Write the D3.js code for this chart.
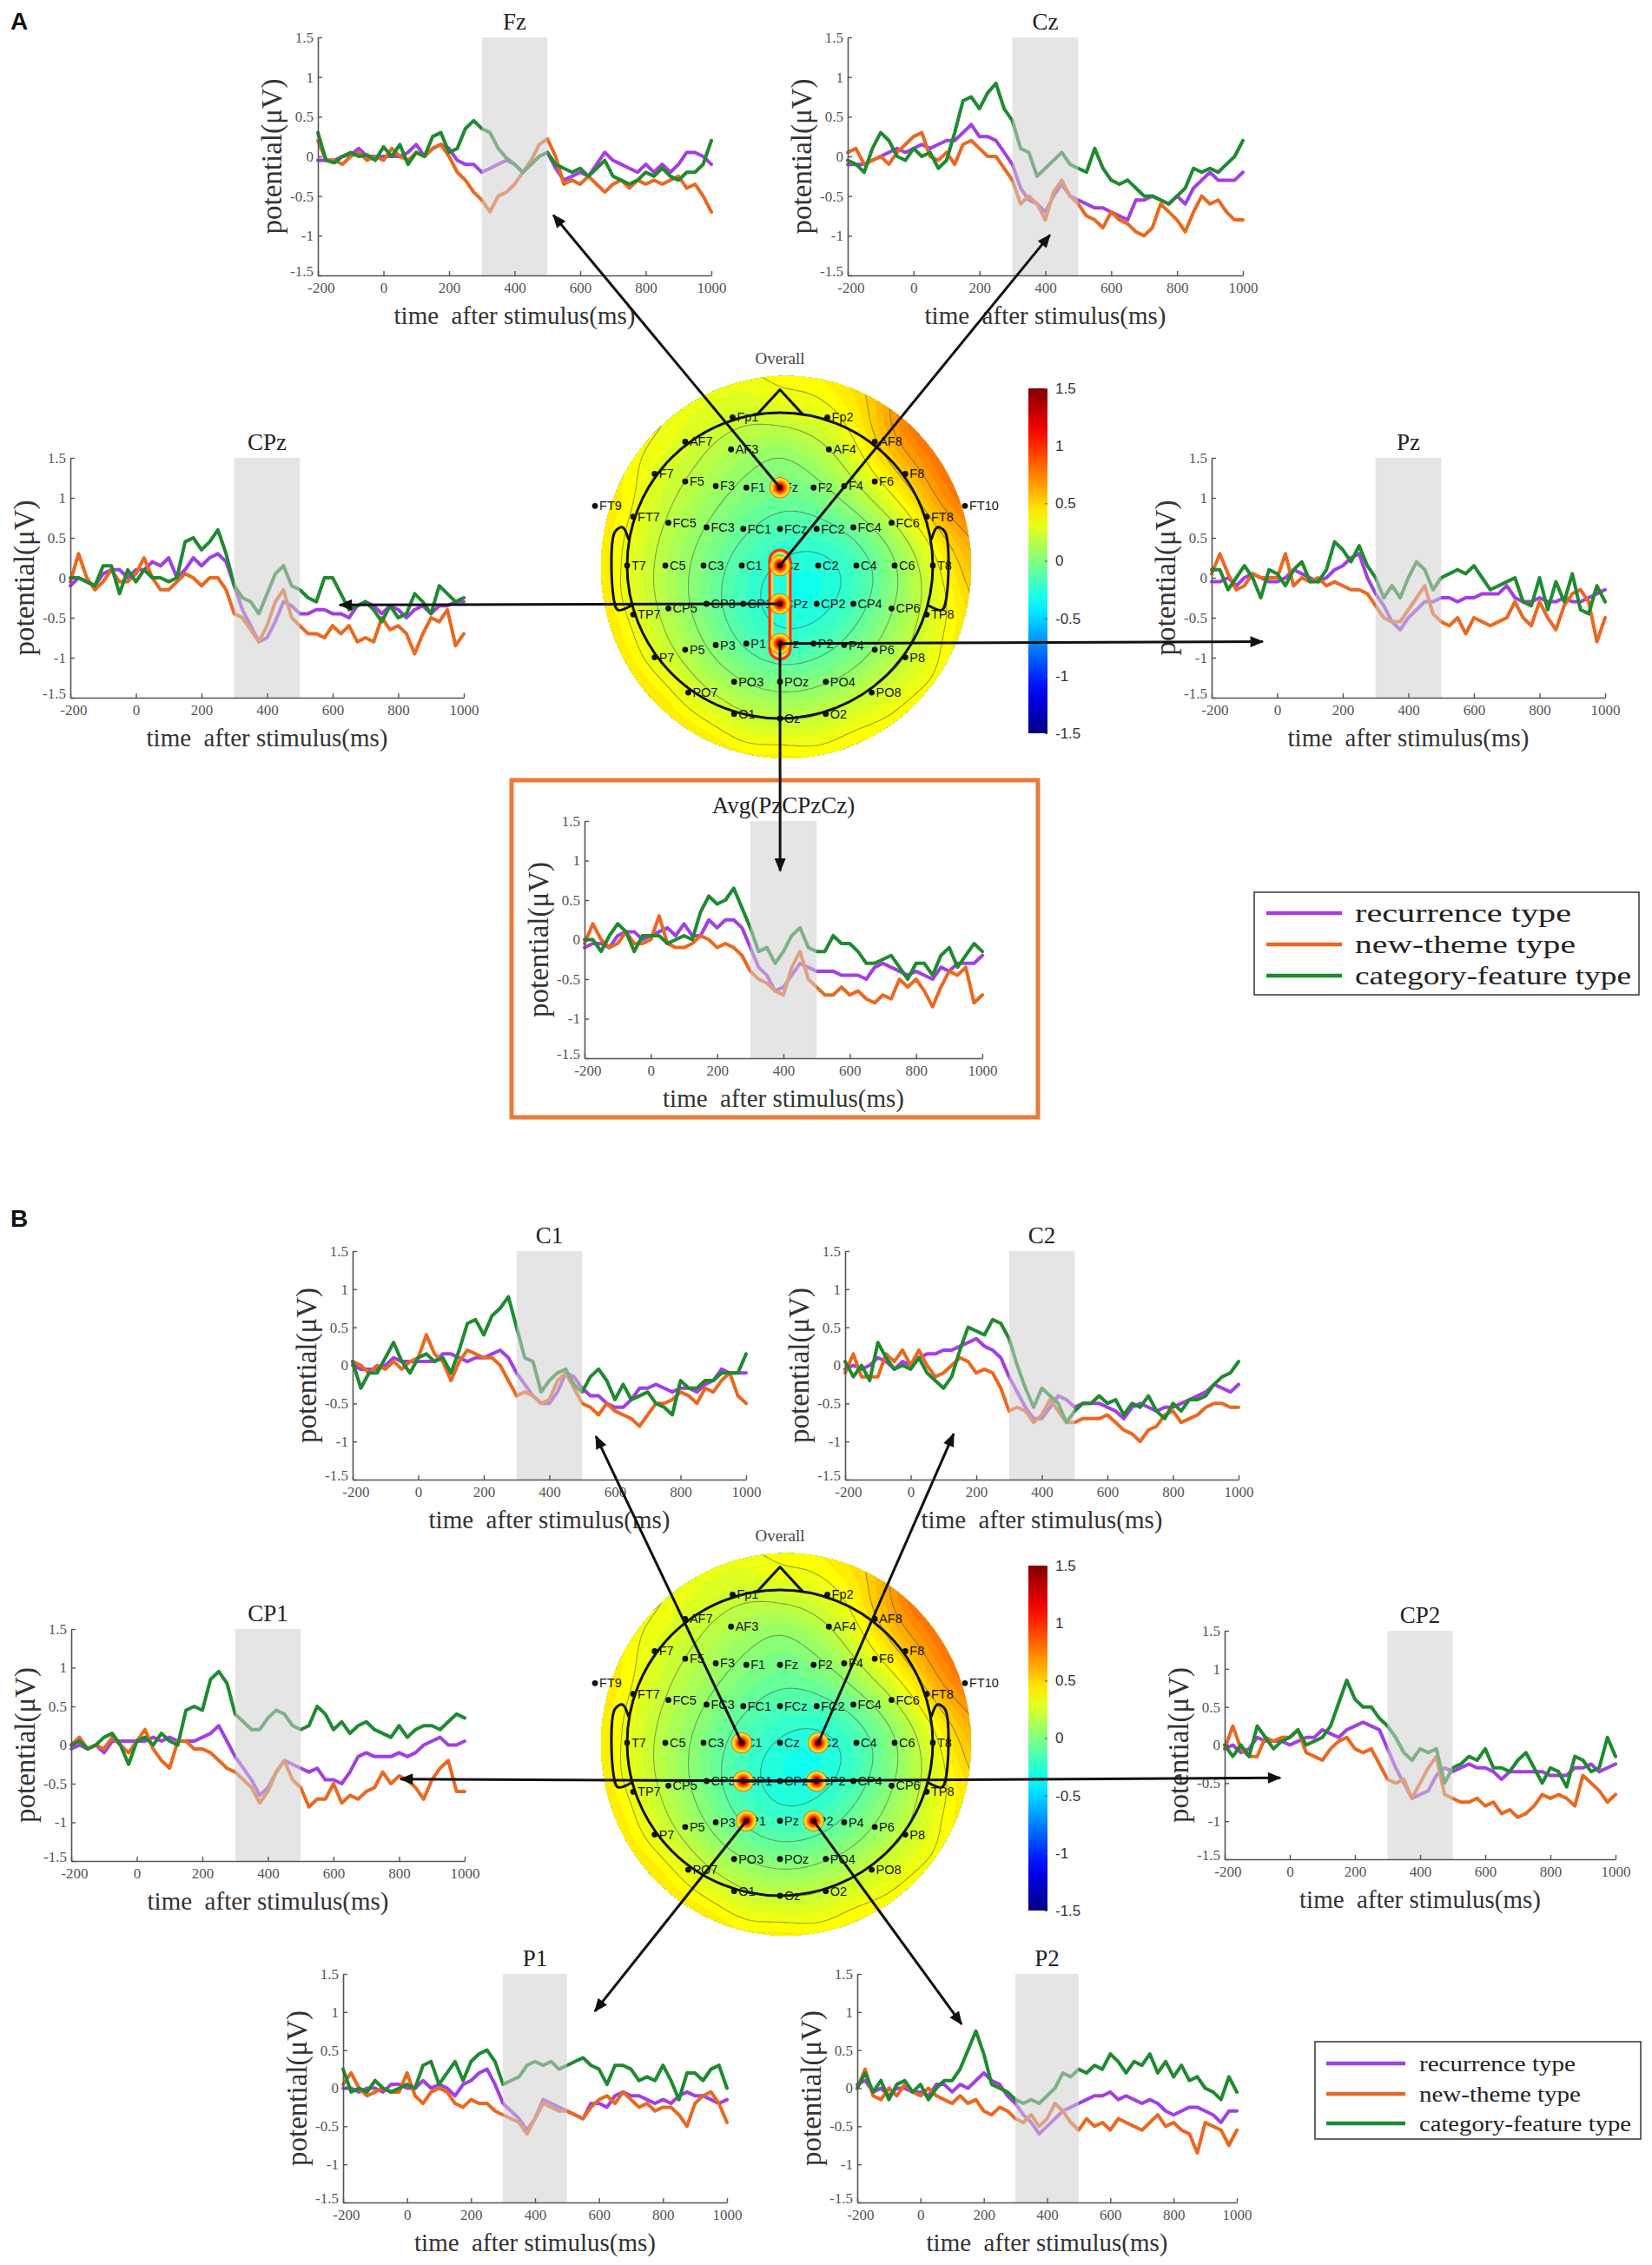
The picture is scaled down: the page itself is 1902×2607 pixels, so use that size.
<!DOCTYPE html>
<html>
<head>
<meta charset="utf-8">
<script src="https://cdn.jsdelivr.net/npm/d3@7"></script>
<style>
html,body{margin:0;padding:0;background:#fff;}
svg text{font-family:"Liberation Serif","Times New Roman",serif;}
</style>
</head>
<body>
<svg id="fig" width="1902" height="2607"></svg>
<script>
'use strict';
// ---------- ERP data: sampled every 25 ms from -200 to 1000 ----------
const timesMs = d3.range(-200, 1001, 25);
const xTicks = [-200, 0, 200, 400, 600, 800, 1000];
const yTicks = [-1.5, -1, -0.5, 0, 0.5, 1, 1.5];
const shadeRange = [300, 500];
const seriesNames = ['recurrence type', 'new-theme type', 'category-feature type'];
const seriesColors = ['#a13fe4', '#ea6820', '#1f8a30'];

const fzRec = [-0.05,-0.05,-0.05,0,0.02,0.1,0,0, 0,0,0,0.05,0.15,0,0.1,0.15, 0.1,-0.05,-0.1,-0.1,-0.2,-0.15,-0.1,-0.05,
  -0.1,-0.2,-0.1,0,0.05,-0.15,-0.3,-0.25, -0.2,-0.25,-0.1,0.05,-0.05,-0.1,-0.15,-0.2, -0.1,-0.2,-0.1,-0.2,-0.1,0.05,0.05,0, -0.1];
const fzNew = [0.2,-0.05,-0.05,-0.1,0,0.05,-0.05,0, -0.05,0.1,0,-0.05,0.05,0,0.1,0.15, 0,-0.2,-0.3,-0.45,-0.55,-0.7,-0.5,-0.45,
  -0.35,-0.2,-0.05,0.15,0.22,0,-0.35,-0.3, -0.35,-0.25,-0.35,-0.45,-0.35,-0.3,-0.4,-0.3, -0.35,-0.3,-0.35,-0.3,-0.25,-0.4,-0.35,-0.5, -0.7];
const fzCat = [0.3,-0.05,-0.08,0,0.05,0,0.02,-0.05, 0.12,0,0.15,-0.1,0.05,0,0.25,0.3, 0.05,0.1,0.35,0.45,0.35,0.3,0.1,-0.02,
  -0.1,-0.2,-0.1,0,0.05,-0.1,-0.15,-0.2, -0.15,-0.25,-0.15,-0.05,-0.25,-0.3,-0.35,-0.3, -0.2,-0.25,-0.15,-0.25,-0.3,-0.2,-0.2,-0.1, 0.2];

const czRec = [-0.1,-0.1,-0.1,-0.05,0,0.05,0.1,0.05, 0.1,0.15,0.1,0.15,0.2,0.2,0.3,0.4, 0.25,0.25,0.2,0.05,-0.1,-0.4,-0.55,-0.6,
  -0.7,-0.5,-0.35,-0.5,-0.55,-0.6,-0.65,-0.65, -0.7,-0.75,-0.8,-0.55,-0.55,-0.5,-0.55,-0.6, -0.5,-0.6,-0.4,-0.3,-0.2,-0.3,-0.3,-0.3, -0.2];
const czNew = [0.05,0.1,-0.1,-0.05,0,-0.1,0.05,0.15, 0.25,0.3,0,-0.05,0.05,-0.1,0.15,0.2, 0.1,0,0,-0.15,-0.3,-0.6,-0.5,-0.6,
  -0.8,-0.45,-0.3,-0.5,-0.6,-0.75,-0.8,-0.9, -0.7,-0.8,-0.85,-0.95,-1,-0.9,-0.6,-0.7, -0.8,-0.95,-0.7,-0.5,-0.6,-0.55,-0.7,-0.8, -0.8];
const czCat = [-0.05,-0.1,-0.2,0.1,0.3,0.2,0,-0.05, 0.1,0,0.05,-0.15,-0.05,0.3,0.7,0.75, 0.6,0.8,0.92,0.6,0.45,0.1,0.05,-0.25,
  -0.15,-0.05,0.05,-0.1,-0.15,-0.2,0.1,-0.15, -0.3,-0.35,-0.3,-0.4,-0.5,-0.5,-0.55,-0.6, -0.5,-0.4,-0.15,-0.2,-0.15,-0.2,-0.1,0, 0.2];

const cpzRec = [-0.1,0,-0.05,-0.1,0.05,0.1,0.1,0, 0.1,0.1,0.2,0.15,0.25,0,0.1,0.25, 0.15,0.25,0.3,0.2,-0.1,-0.4,-0.6,-0.8,
  -0.75,-0.55,-0.3,-0.35,-0.45,-0.45,-0.4,-0.4, -0.45,-0.45,-0.5,-0.35,-0.3,-0.35,-0.45,-0.35, -0.4,-0.5,-0.4,-0.35,-0.45,-0.35,-0.35,-0.3, -0.3];
const cpzNew = [-0.05,0.3,0,-0.15,-0.05,0.1,-0.05,-0.05, 0.05,0.25,0,-0.15,-0.15,-0.05,0.05,0, -0.1,0,0,-0.15,-0.45,-0.5,-0.65,-0.8,
  -0.6,-0.3,-0.15,-0.5,-0.6,-0.7,-0.7,-0.75, -0.6,-0.7,-0.6,-0.8,-0.75,-0.8,-0.5,-0.65, -0.6,-0.7,-0.95,-0.7,-0.5,-0.55,-0.4,-0.85, -0.7];
const cpzCat = [0,0,-0.05,-0.1,0.15,0.15,-0.2,0.1, -0.05,0.1,0,0,-0.05,0,0.45,0.5, 0.35,0.45,0.6,0.3,-0.1,-0.25,-0.3,-0.45,
  -0.2,0.05,0.15,-0.1,-0.15,-0.25,-0.3,0, 0,-0.2,-0.4,-0.35,-0.3,-0.4,-0.55,-0.35, -0.5,-0.45,-0.2,-0.3,-0.45,-0.1,-0.2,-0.3, -0.25];

const pzRec = [-0.05,-0.05,0,-0.1,0,0.05,0,-0.05, -0.05,0,0.1,0.05,0,-0.05,0,0.1, 0.15,0.25,0.3,0,-0.2,-0.35,-0.55,-0.65,
  -0.5,-0.4,-0.3,-0.3,-0.25,-0.25,-0.3,-0.25, -0.25,-0.2,-0.2,-0.2,-0.1,-0.25,-0.3,-0.3, -0.25,-0.3,-0.3,-0.25,-0.3,-0.3,-0.25,-0.2, -0.15];
const pzNew = [0.05,0.3,0.05,-0.15,-0.1,0.05,0,0, 0,0.3,-0.1,0,-0.05,0,-0.1,-0.05, -0.1,-0.15,-0.15,-0.2,-0.35,-0.5,-0.55,-0.55,
  -0.4,-0.25,-0.1,-0.45,-0.55,-0.6,-0.5,-0.7, -0.5,-0.55,-0.6,-0.55,-0.5,-0.3,-0.5,-0.6, -0.3,-0.5,-0.65,-0.35,-0.2,-0.15,-0.3,-0.8, -0.5];
const pzCat = [0.1,0.1,-0.15,0,0.15,0,-0.25,0.1, 0.05,-0.1,0.1,0.2,-0.05,-0.05,0.1,0.45, 0.35,0.2,0.4,0.15,0,-0.25,-0.1,-0.25,
  0,0.2,0.1,-0.15,0,0.05,0.1,0.05, 0.15,0,-0.15,-0.1,-0.05,0,-0.3,-0.35, 0,-0.4,-0.05,-0.3,0.05,-0.4,-0.45,-0.1, -0.3];

const avgRec = [-0.1,-0.05,-0.05,-0.1,0.05,0.1,0.1,0, 0.05,0.1,0.15,0.05,0.2,0.05,0.05,0.25, 0.15,0.25,0.25,0.15,-0.1,-0.35,-0.45,-0.65,
  -0.6,-0.45,-0.3,-0.35,-0.4,-0.4,-0.4,-0.45, -0.45,-0.45,-0.5,-0.35,-0.3,-0.35,-0.4,-0.45, -0.4,-0.45,-0.5,-0.35,-0.4,-0.3,-0.3,-0.3, -0.2];
const avgNew = [-0.05,0.2,0,-0.1,-0.05,0.1,-0.05,-0.05, 0,0.3,-0.05,-0.1,-0.1,-0.05,0.05,0, -0.1,-0.05,-0.1,-0.2,-0.4,-0.5,-0.55,-0.65,
  -0.7,-0.35,-0.15,-0.5,-0.6,-0.7,-0.7,-0.6, -0.7,-0.65,-0.75,-0.8,-0.7,-0.75,-0.5,-0.6, -0.5,-0.65,-0.85,-0.6,-0.4,-0.45,-0.35,-0.8, -0.7];
const avgCat = [0,0,-0.15,0.05,0.2,0.1,-0.15,0.05, 0.05,0.05,-0.05,0,0.05,0,0.35,0.55, 0.45,0.5,0.65,0.4,0.15,-0.15,-0.1,-0.3,
  -0.15,0.05,0.15,-0.1,-0.15,-0.15,0.05,-0.05, -0.05,-0.15,-0.3,-0.3,-0.25,-0.2,-0.35,-0.5, -0.3,-0.3,-0.45,-0.2,-0.1,-0.35,-0.2,-0.05, -0.15];

const c1Rec = [0,-0.05,-0.05,-0.05,0,0.1,0.05,0.05, 0.05,0.05,0.05,0.15,0.15,0.1,0.05,0.1, 0.1,0.15,0.2,0.1,-0.1,-0.25,-0.4,-0.5,
  -0.5,-0.35,-0.1,-0.15,-0.3,-0.4,-0.4,-0.5, -0.55,-0.55,-0.45,-0.3,-0.3,-0.25,-0.3,-0.35, -0.3,-0.3,-0.35,-0.25,-0.2,-0.05,-0.1,-0.1, -0.1];
const c1New = [0.05,0,-0.1,0,-0.05,0.05,-0.05,0.05, 0.1,0.4,0.15,0.05,-0.2,0.05,0.2,0.15, 0.1,0.1,0,-0.2,-0.4,-0.35,-0.4,-0.5,
  -0.45,-0.2,-0.1,-0.3,-0.5,-0.55,-0.65,-0.5, -0.6,-0.65,-0.7,-0.8,-0.65,-0.5,-0.5,-0.45, -0.35,-0.4,-0.5,-0.3,-0.35,-0.2,-0.1,-0.4, -0.5];
const c1Cat = [0.05,-0.3,-0.1,-0.1,0.1,0.3,0.05,-0.1, 0.1,0.15,0.05,0.1,-0.1,0.2,0.55,0.6, 0.4,0.65,0.75,0.9,0.5,0.1,0.05,-0.35,
  -0.2,-0.1,-0.05,-0.25,-0.35,-0.15,-0.05,-0.2, -0.45,-0.25,-0.45,-0.4,-0.35,-0.5,-0.55,-0.65, -0.2,-0.3,-0.3,-0.2,-0.2,-0.1,-0.1,-0.1, 0.15];

const c2Rec = [-0.05,0,-0.05,0,0.1,0.05,-0.05,0.05, 0,0.1,0.15,0.15,0.2,0.2,0.25,0.3, 0.35,0.25,0.2,0.1,-0.15,-0.35,-0.55,-0.7,
  -0.7,-0.55,-0.4,-0.45,-0.55,-0.5,-0.5,-0.5, -0.55,-0.6,-0.7,-0.55,-0.5,-0.55,-0.6,-0.55, -0.55,-0.5,-0.45,-0.4,-0.35,-0.25,-0.3,-0.35, -0.25];
const c2New = [-0.1,0.15,-0.15,-0.15,-0.15,0.15,0.05,0.2, 0,0.2,0,-0.15,-0.1,0,0.1,0.05, -0.1,-0.05,-0.1,-0.3,-0.6,-0.55,-0.6,-0.75,
  -0.65,-0.45,-0.6,-0.75,-0.75,-0.7,-0.7,-0.7, -0.65,-0.75,-0.85,-0.9,-1,-0.85,-0.8,-0.65, -0.6,-0.75,-0.7,-0.65,-0.55,-0.5,-0.5,-0.55, -0.55];
const c2Cat = [0.05,-0.15,0,-0.2,0.3,0.1,-0.05,0, -0.05,0.1,-0.1,-0.2,-0.3,-0.15,0.2,0.5, 0.45,0.4,0.6,0.55,0.35,0,-0.3,-0.55,
  -0.3,-0.4,-0.5,-0.75,-0.6,-0.5,-0.5,-0.4, -0.5,-0.45,-0.65,-0.5,-0.55,-0.4,-0.6,-0.7, -0.5,-0.6,-0.45,-0.45,-0.4,-0.25,-0.15,-0.1, 0.05];

const cp1Rec = [-0.05,0,-0.05,0,-0.1,0.05,0.05,0.05, 0.05,0.05,0.1,0.05,0.1,0.05,0.05,0.05, 0.1,0.15,0.25,0.05,-0.15,-0.3,-0.45,-0.65,
  -0.55,-0.35,-0.2,-0.25,-0.3,-0.35,-0.3,-0.45, -0.45,-0.5,-0.35,-0.15,-0.1,-0.15,-0.15,-0.15, -0.1,-0.15,-0.1,0,0.05,0.1,0,0, 0.05];
const cp1New = [0,0.1,-0.05,0,-0.05,0.1,0,-0.1, 0.05,0.2,-0.05,-0.2,-0.3,0.05,0.05,-0.05, -0.05,-0.1,-0.2,-0.3,-0.35,-0.45,-0.55,-0.75,
  -0.6,-0.35,-0.2,-0.45,-0.55,-0.8,-0.7,-0.7, -0.5,-0.75,-0.65,-0.7,-0.6,-0.55,-0.35,-0.5, -0.4,-0.45,-0.55,-0.7,-0.45,-0.3,-0.2,-0.6, -0.6];
const cp1Cat = [0,0.05,-0.05,0,0.1,0.15,0,-0.25, 0.05,0.1,0,0.15,0.05,0,0.45,0.5, 0.45,0.85,0.95,0.8,0.4,0.3,0.2,0.2,
  0.35,0.45,0.4,0.25,0.2,0.25,0.5,0.4, 0.2,0.3,0.15,0.25,0.3,0.2,0.15,0.1, 0.25,0.1,0.2,0.25,0.25,0.2,0.3,0.4, 0.35];

const cp2Rec = [-0.05,0,-0.1,-0.05,0.1,0.05,0.05,0.05, 0,0.05,0.1,0.1,0.2,0.15,0.1,0.2, 0.25,0.3,0.25,0.2,-0.05,-0.3,-0.5,-0.7,
  -0.65,-0.6,-0.4,-0.3,-0.35,-0.3,-0.25,-0.3, -0.3,-0.35,-0.45,-0.35,-0.35,-0.35,-0.35,-0.35, -0.4,-0.4,-0.4,-0.3,-0.3,-0.25,-0.35,-0.3, -0.25];
const cp2New = [-0.05,0.25,-0.05,-0.15,-0.15,0.1,0.05,0.1, 0.1,0.2,-0.1,-0.15,-0.2,-0.05,0.05,0.1, -0.05,-0.1,-0.05,-0.25,-0.45,-0.5,-0.45,-0.7,
  -0.5,-0.3,-0.15,-0.65,-0.7,-0.75,-0.75,-0.7, -0.8,-0.75,-0.9,-0.85,-0.95,-0.9,-0.8,-0.65, -0.7,-0.65,-0.7,-0.8,-0.4,-0.5,-0.6,-0.75, -0.65];
const cp2Cat = [0,-0.15,0,-0.15,0.25,0.1,-0.05,0.05, 0.1,0.2,0,0.05,0.1,0.25,0.55,0.85, 0.6,0.5,0.5,0.35,0.25,0.1,-0.1,-0.2,
  -0.05,-0.1,-0.05,-0.5,-0.3,-0.25,-0.15,-0.2, -0.05,-0.3,-0.3,-0.35,-0.2,-0.1,-0.3,-0.5, -0.3,-0.35,-0.55,-0.15,-0.2,-0.35,-0.3,0.1, -0.15];

const p1Rec = [0,0,-0.05,0,0,-0.05,0.05,0.05, 0,0,0.1,0,0.05,0,-0.1,0.05, 0.1,0.2,0.25,0.05,-0.2,-0.3,-0.4,-0.55,
  -0.4,-0.15,-0.2,-0.25,-0.3,-0.35,-0.4,-0.2, -0.2,-0.25,-0.1,-0.05,-0.1,-0.1,-0.15,-0.2, -0.15,-0.2,-0.1,-0.05,-0.1,-0.1,-0.15,-0.2, -0.15];
const p1New = [0.05,0.2,0,-0.1,-0.05,0,-0.05,-0.05, 0.2,-0.1,-0.2,-0.05,0,-0.05,-0.2,-0.25, -0.15,-0.2,-0.2,-0.3,-0.35,-0.4,-0.45,-0.6,
  -0.4,-0.2,-0.25,-0.3,-0.3,-0.35,-0.4,-0.25, -0.15,-0.1,-0.2,-0.05,-0.15,-0.25,-0.2,-0.3, -0.25,-0.25,-0.35,-0.5,-0.2,-0.1,-0.05,-0.2, -0.45];
const p1Cat = [0.25,-0.05,0,-0.05,0.1,0,-0.05,0, 0.05,0,0.3,0.35,0.05,0.2,0.35,0.1, 0.35,0.45,0.5,0.35,0.05,0.1,0.15,0.3,
  0.35,0.3,0.35,0.25,0.3,0.35,0.4,0.3, 0.25,0.05,0.3,0.3,0.25,0.1,0.15,0.1, 0.3,0.1,-0.15,0.2,0.2,0.1,0.25,0.3, 0];

const p2Rec = [0.05,0.1,-0.05,0,-0.1,0,0,-0.05, -0.05,-0.1,0.05,0.05,-0.05,0.05,0,0.1, 0.2,0.1,0.05,-0.1,-0.2,-0.35,-0.45,-0.6,
  -0.5,-0.4,-0.3,-0.25,-0.2,-0.15,-0.1,-0.1, -0.05,-0.15,-0.1,-0.15,-0.2,-0.15,-0.2,-0.3, -0.35,-0.3,-0.25,-0.25,-0.3,-0.35,-0.45,-0.3, -0.3];
const p2New = [0,0.25,-0.1,-0.15,0,-0.1,0.05,-0.05, -0.1,0,-0.1,-0.15,-0.2,-0.1,-0.2,-0.15, -0.3,-0.35,-0.25,-0.3,-0.4,-0.45,-0.35,-0.5,
  -0.4,-0.2,-0.3,-0.45,-0.55,-0.4,-0.5,-0.45, -0.55,-0.4,-0.45,-0.5,-0.55,-0.45,-0.35,-0.5, -0.45,-0.55,-0.6,-0.85,-0.45,-0.5,-0.55,-0.75, -0.55];
const p2Cat = [0,0.2,-0.05,0.1,-0.15,0.05,0.1,-0.05, 0.05,-0.15,0,0.1,0.1,0.25,0.5,0.75, 0.45,0.05,0,-0.05,-0.15,-0.2,-0.15,-0.2,
  -0.1,0,0.2,0.15,0.25,0.2,0.3,0.25, 0.45,0.35,0.2,0.35,0.3,0.45,0.2,0.35, 0.15,0.3,0.1,0.15,0,-0.05,-0.15,0.15, -0.05];

// ---------- topographic map data (head units: radius 1 = head circle) ----------
// [name, x, y, potential µV]
const electrodes = [
  ['Fp1',-0.31,-0.97,0.2],['Fp2',0.31,-0.97,0.25],
  ['AF7',-0.62,-0.81,0.3],['AF3',-0.32,-0.76,0.15],['AF4',0.32,-0.76,0.15],['AF8',0.62,-0.81,0.55],
  ['F7',-0.82,-0.6,0.3],['F5',-0.62,-0.55,0.2],['F3',-0.42,-0.52,0.1],['F1',-0.22,-0.51,0],['Fz',0,-0.51,-0.05],
  ['F2',0.22,-0.51,0],['F4',0.42,-0.52,0.1],['F6',0.62,-0.55,0.3],['F8',0.82,-0.6,0.65],
  ['FT9',-1.21,-0.39,0.5],['FT10',1.21,-0.39,0.75],
  ['FT7',-0.96,-0.32,0.3],['FC5',-0.73,-0.28,0.18],['FC3',-0.48,-0.25,0.05],['FC1',-0.24,-0.24,-0.1],['FCz',0,-0.24,-0.15],
  ['FC2',0.24,-0.24,-0.2],['FC4',0.48,-0.25,-0.05],['FC6',0.73,-0.28,0.15],['FT8',0.96,-0.32,0.35],
  ['T7',-1,0,0.3],['C5',-0.75,0,0.15],['C3',-0.5,0,0],['C1',-0.25,0,-0.2],['Cz',0,0,-0.3],
  ['C2',0.25,0,-0.42],['C4',0.5,0,-0.3],['C6',0.75,0,0],['T8',1,0,0.25],
  ['TP7',-0.96,0.32,0.3],['CP5',-0.73,0.28,0.15],['CP3',-0.48,0.25,-0.05],['CP1',-0.24,0.25,-0.25],['CPz',0,0.25,-0.38],
  ['CP2',0.24,0.25,-0.4],['CP4',0.48,0.25,-0.2],['CP6',0.73,0.28,0.05],['TP8',0.96,0.32,0.25],
  ['P7',-0.82,0.6,0.3],['P5',-0.62,0.55,0.15],['P3',-0.42,0.52,0],['P1',-0.22,0.51,-0.2],['Pz',0,0.51,-0.28],
  ['P2',0.22,0.51,-0.22],['P4',0.42,0.52,-0.1],['P6',0.62,0.55,0.05],['P8',0.82,0.6,0.2],
  ['PO7',-0.6,0.83,0.3],['PO3',-0.3,0.76,0.1],['POz',0,0.76,0],['PO4',0.3,0.76,0.05],['PO8',0.6,0.83,0.25],
  ['O1',-0.3,0.97,0.2],['Oz',0,1,0.15],['O2',0.3,0.97,0.2]
];
// potential along the outer rim of the map (degrees clockwise from the nose)
const rimAngles = [0,22.5,45,67.5,90,112.5,135,157.5,180,202.5,225,247.5,270,292.5,315,337.5];
const rimValues = [0.4,0.55,1.0,1.1,0.75,0.55,0.5,0.55,0.6,0.62,0.65,0.65,0.62,0.55,0.45,0.4];
const cbTicks = [-1.5,-1,-0.5,0,0.5,1,1.5];

const svg = d3.select('#fig');
const defs = svg.append('defs');

function jet(v){
  const t = Math.max(0, Math.min(1, (v + 1.5) / 3));
  const c = k => Math.round(255 * Math.max(0, Math.min(1, k)));
  return `rgb(${c(1.5-Math.abs(4*t-3))},${c(1.5-Math.abs(4*t-2))},${c(1.5-Math.abs(4*t-1))})`;
}

defs.append('marker').attr('id','arrow').attr('viewBox','0 0 12 10').attr('refX',11).attr('refY',5)
  .attr('markerWidth',17).attr('markerHeight',13).attr('markerUnits','userSpaceOnUse').attr('orient','auto')
  .append('path').attr('d','M0,0 L12,5 L0,10 z').attr('fill','#111');

const cbGrad = defs.append('linearGradient').attr('id','cbGrad').attr('x1',0).attr('y1',1).attr('x2',0).attr('y2',0);
d3.range(0, 1.0001, 0.05).forEach(f => cbGrad.append('stop').attr('offset', f).attr('stop-color', jet(-1.5 + 3*f)));

const blobGrad = defs.append('radialGradient').attr('id','blobGrad');
[[0,'#b00000'],[0.4,'#ff1a00'],[0.62,'#ff9a00'],[0.78,'#ffe030'],[0.9,'#ffd000'],[1,'#f04010']]
  .forEach(s => blobGrad.append('stop').attr('offset', s[0]).attr('stop-color', s[1]));

// ---------- ERP panels ----------
const panels = [
  {title:'Fz', rec:fzRec, neu:fzNew, cat:fzCat, box:[366,819,43,317]},
  {title:'Cz', rec:czRec, neu:czNew, cat:czCat, box:[976,1431,43,317]},
  {title:'CPz', rec:cpzRec, neu:cpzNew, cat:cpzCat, box:[81,534,527,803]},
  {title:'Pz', rec:pzRec, neu:pzNew, cat:pzCat, box:[1395,1848,527,803]},
  {title:'Avg(PzCPzCz)', rec:avgRec, neu:avgNew, cat:avgCat, box:[673,1131,945,1218]},
  {title:'C1', rec:c1Rec, neu:c1New, cat:c1Cat, box:[406,859,1440,1703]},
  {title:'C2', rec:c2Rec, neu:c2New, cat:c2Cat, box:[973,1426,1440,1703]},
  {title:'CP1', rec:cp1Rec, neu:cp1New, cat:cp1Cat, box:[82,535,1875,2142]},
  {title:'CP2', rec:cp2Rec, neu:cp2New, cat:cp2Cat, box:[1410,1860,1877,2140]},
  {title:'P1', rec:p1Rec, neu:p1New, cat:p1Cat, box:[395,837,2272,2535]},
  {title:'P2', rec:p2Rec, neu:p2New, cat:p2Cat, box:[987,1424,2272,2535]}
];
const panelByTitle = {};

// orange frame around the averaged panel
svg.append('rect').attr('x',589).attr('y',898).attr('width',606).attr('height',388)
  .attr('fill','none').attr('stroke','#ea7a35').attr('stroke-width',5);

function drawPanel(p){
  const [x0, x1, y0, y1] = p.box;
  const x = d3.scaleLinear().domain([-200, 1000]).range([x0, x1]);
  const y = d3.scaleLinear().domain([-1.5, 1.5]).range([y1, y0]);
  p.x = x; p.y = y; panelByTitle[p.title] = p;
  const g = svg.append('g');
  const line = d3.line().x((d, i) => x(timesMs[i])).y(d => y(d));
  [p.rec, p.neu, p.cat].forEach((arr, k) => {
    g.append('path').attr('d', line(arr)).attr('fill','none').attr('stroke', seriesColors[k])
      .attr('stroke-width', 4).attr('stroke-linejoin','round').attr('stroke-linecap','round');
  });
  g.append('rect').attr('x', x(shadeRange[0])).attr('y', y0).attr('width', x(shadeRange[1]) - x(shadeRange[0]))
    .attr('height', y1 - y0).attr('fill','#d0d0d0').attr('opacity',0.55);
  const gx = g.append('g').attr('transform',`translate(0,${y1})`)
    .call(d3.axisBottom(x).tickValues(xTicks).tickSize(-5).tickSizeOuter(0).tickPadding(8).tickFormat(d => String(d)));
  const gy = g.append('g').attr('transform',`translate(${x0},0)`)
    .call(d3.axisLeft(y).tickValues(yTicks).tickSize(-5).tickSizeOuter(0).tickPadding(5).tickFormat(d => String(d)));
  [gx, gy].forEach(a => {
    a.select('.domain').attr('stroke','#555').attr('stroke-width',1.6);
    a.selectAll('.tick line').attr('stroke','#555').attr('stroke-width',1.4);
    a.selectAll('.tick text').attr('fill','#555').style('font-family','Liberation Serif').style('font-size','17px');
  });
  // keep the corner labels "-1.5" and "-200" apart
  gy.selectAll('.tick text').filter(d => d === -1.5).attr('dy','0.05em');
  gx.selectAll('.tick text').filter(d => d === -200).attr('dx','0.2em');
  g.append('text').attr('x',(x0+x1)/2).attr('y',y0-9).attr('text-anchor','middle')
    .style('font-size','27px').attr('fill','#222').text(p.title);
  g.append('text').attr('x',(x0+x1)/2).attr('y',y1+56).attr('text-anchor','middle')
    .style('font-size','29px').style('white-space','pre').attr('fill','#333').text('time  after stimulus(ms)');
  g.append('text').attr('transform',`translate(${x0-54},${(y0+y1)/2}) rotate(-90)`).attr('dy','0.35em')
    .attr('text-anchor','middle').style('font-size','33px').attr('fill','#333').text('potential(μV)');
}
panels.forEach(drawPanel);

// ---------- topographic maps ----------
const R = 176;
const N = 130, ext = 1.3;
const fieldPts = electrodes.map(e => ({x:e[1], y:e[2], v:e[3]}))
  .concat(rimAngles.map((a, i) => ({x:1.24*Math.sin(a*Math.PI/180), y:-1.24*Math.cos(a*Math.PI/180), v:rimValues[i]})));
const grid = new Array(N*N);
for (let j = 0; j < N; j++) {
  for (let i = 0; i < N; i++) {
    const px = -ext + (i + 0.5) * 2 * ext / N, py = -ext + (j + 0.5) * 2 * ext / N;
    let sw = 0, sv = 0;
    fieldPts.forEach(q => {
      const d2 = (px-q.x)*(px-q.x) + (py-q.y)*(py-q.y);
      const w = Math.exp(-d2 / (2*0.2*0.2));
      sw += w; sv += w * q.v;
    });
    grid[j*N + i] = sw > 1e-9 ? sv / sw : 0.4;
  }
}
const fillBands = d3.contours().size([N, N]).thresholds(d3.range(-1.5, 1.51, 0.05))(grid);
const isoLines = d3.contours().size([N, N]).thresholds([-0.4,-0.25,-0.1,0.05,0.2,0.35,0.5,0.65,0.8,0.95])(grid);
const elecByName = {};
electrodes.forEach(e => { elecByName[e[0]] = {x:e[1], y:e[2]}; });

function drawTopo(id, cx, cy, blobs, capsule){
  const tx = d3.scaleLinear().domain([-1, 1]).range([cx - R, cx + R]);
  const ty = d3.scaleLinear().domain([-1, 1]).range([cy - R, cy + R]);
  const gs = d3.scaleLinear().domain([0, N]).range([-ext, ext]);
  const proj = d3.geoTransform({point(a, b){ this.stream.point(tx(gs(a)), ty(gs(b))); }});
  const path = d3.geoPath(proj);
  defs.append('clipPath').attr('id', id).append('ellipse')
    .attr('cx', tx(0.04)).attr('cy', ty(0.01)).attr('rx', tx(1.21) - tx(0)).attr('ry', ty(1.25) - ty(0));
  const g = svg.append('g');
  const m = g.append('g').attr('clip-path', `url(#${id})`);
  m.selectAll('path.band').data(fillBands).join('path').attr('class','band')
    .attr('d', path).attr('fill', d => jet(d.value + 0.025));
  m.selectAll('path.iso').data(isoLines).join('path').attr('class','iso')
    .attr('d', path).attr('fill','none').attr('stroke','#3c4a3c').attr('stroke-opacity',0.5).attr('stroke-width',1.1);

  // head outline, nose, ears
  const hl = d3.line().x(d => tx(d[0])).y(d => ty(d[1]));
  g.append('ellipse').attr('cx', tx(0)).attr('cy', ty(0)).attr('rx', R).attr('ry', R)
    .attr('fill','none').attr('stroke','#111').attr('stroke-width',3);
  g.append('path').attr('d', hl([[-0.15,-0.988],[0,-1.15],[0.15,-0.988]]))
    .attr('fill','none').attr('stroke','#111').attr('stroke-width',3).attr('stroke-linejoin','round');
  const ear = [[-0.99,-0.17],[-1.03,-0.25],[-1.08,-0.22],[-1.09,0.2],[-1.06,0.29],[-0.97,0.26]];
  const earLine = d3.line().x(d => tx(d[0])).y(d => ty(d[1])).curve(d3.curveCatmullRom);
  [1, -1].forEach(s => {
    g.append('path').attr('d', earLine(ear.map(p => [p[0]*s, p[1]])))
      .attr('fill','none').attr('stroke','#111').attr('stroke-width',3);
  });

  // electrodes
  const eg = g.append('g');
  eg.selectAll('circle').data(electrodes).join('circle')
    .attr('cx', d => tx(d[1])).attr('cy', d => ty(d[2])).attr('r', 3.4).attr('fill','#111');
  eg.selectAll('text').data(electrodes).join('text')
    .attr('x', d => tx(d[1]) + 5).attr('y', d => ty(d[2]) + 5)
    .style('font-family','Liberation Sans, Arial, sans-serif').style('font-size','14.5px').attr('fill','#151515')
    .text(d => d[0]);

  // highlighted channels
  if (capsule) {
    const a = elecByName[capsule[0]], b = elecByName[capsule[1]];
    g.append('rect').attr('x', tx(a.x) - 11).attr('y', ty(a.y) - 17).attr('width', 22)
      .attr('height', ty(b.y) - ty(a.y) + 34).attr('rx', 11)
      .attr('fill','none').attr('stroke','#f03a10').attr('stroke-width',5);
    g.append('rect').attr('x', tx(a.x) - 9).attr('y', ty(a.y) - 15).attr('width', 18)
      .attr('height', ty(b.y) - ty(a.y) + 30).attr('rx', 9)
      .attr('fill','none').attr('stroke','#ffd84a').attr('stroke-width',2.5);
  }
  blobs.forEach(n => {
    const e = elecByName[n];
    g.append('circle').attr('cx', tx(e.x)).attr('cy', ty(e.y)).attr('r', 12).attr('fill','url(#blobGrad)');
    g.append('circle').attr('cx', tx(e.x)).attr('cy', ty(e.y)).attr('r', 3.3).attr('fill','#400');
  });

  g.append('text').attr('x', tx(0)).attr('y', cy - 232).attr('text-anchor','middle')
    .style('font-size','19px').attr('fill','#444').text('Overall');

  // colour bar
  const cbY = d3.scaleLinear().domain([-1.5, 1.5]).range([cy + 193, cy - 204]);
  g.append('rect').attr('x', cx + 286).attr('y', cbY(1.5)).attr('width', 22).attr('height', cbY(-1.5) - cbY(1.5))
    .attr('fill','url(#cbGrad)');
  const cba = g.append('g').attr('transform',`translate(${cx + 308},0)`)
    .call(d3.axisRight(cbY).tickValues(cbTicks).tickSize(-3).tickSizeOuter(0).tickPadding(9).tickFormat(d => String(d)));
  cba.select('.domain').remove();
  cba.selectAll('.tick line').attr('stroke','#555');
  cba.selectAll('.tick text').attr('fill','#333').style('font-family','Liberation Sans, Arial, sans-serif').style('font-size','17px');
  return {tx, ty};
}

const topoA = drawTopo('clipA', 898, 651, ['Fz','Cz','CPz','Pz'], ['Cz','Pz']);
const topoB = drawTopo('clipB', 898, 2006, ['C1','C2','CP1','CP2','P1','P2'], null);

// ---------- arrows: electrode -> panel (tip given in panel data coords) ----------
const arrowsA = [['Fz','Fz',518,-0.74],['Cz','Cz',414,-0.99],['CPz','CPz',621,-0.34],['Pz','Pz',-44,-0.8],['Pz','Avg(PzCPzCz)',390,0.87]];
const arrowsB = [['C1','C1',542,-0.93],['C2','C2',131,-0.9],['CP2','CP1',804,-0.44],['CP1','CP2',-29,-0.43],['P1','P1',587,1.01],['P2','P2',130,0.84]];
function drawArrows(list, topo){
  list.forEach(a => {
    const e = elecByName[a[0]], p = panelByTitle[a[1]];
    svg.append('line').attr('x1', topo.tx(e.x)).attr('y1', topo.ty(e.y)).attr('x2', p.x(a[2])).attr('y2', p.y(a[3]))
      .attr('stroke','#111').attr('stroke-width',3).attr('marker-end','url(#arrow)');
  });
}
drawArrows(arrowsA, topoA);
drawArrows(arrowsB, topoB);

// ---------- legends ----------
function drawLegend(x, y, w, h, rows, lineX0, lineX1, textX, fs, widths){
  const g = svg.append('g');
  g.append('rect').attr('x', x).attr('y', y).attr('width', w).attr('height', h)
    .attr('fill','#fff').attr('stroke','#333').attr('stroke-width',1.5);
  seriesNames.forEach((n, k) => {
    g.append('line').attr('x1', lineX0).attr('x2', lineX1).attr('y1', rows[k]).attr('y2', rows[k])
      .attr('stroke', seriesColors[k]).attr('stroke-width',4.5);
    g.append('text').attr('x', textX).attr('y', rows[k]).attr('dy','0.35em')
      .attr('textLength', widths[k]).attr('lengthAdjust','spacingAndGlyphs')
      .style('font-size', fs + 'px').attr('fill','#222').text(n);
  });
}
drawLegend(1444, 1027, 443, 118, [1051, 1087, 1123], 1458, 1545, 1560, 29, [249, 254, 318]);
drawLegend(1514, 2350, 375, 112, [2375, 2410, 2444], 1527, 1618, 1634, 25, [180, 186, 244]);

// panel letters
svg.append('text').attr('x', 12).attr('y', 34).style('font-family','Liberation Sans, Arial, sans-serif')
  .style('font-size','28px').style('font-weight','bold').attr('fill','#111').text('A');
svg.append('text').attr('x', 12).attr('y', 1412).style('font-family','Liberation Sans, Arial, sans-serif')
  .style('font-size','28px').style('font-weight','bold').attr('fill','#111').text('B');
</script>
</body>
</html>
